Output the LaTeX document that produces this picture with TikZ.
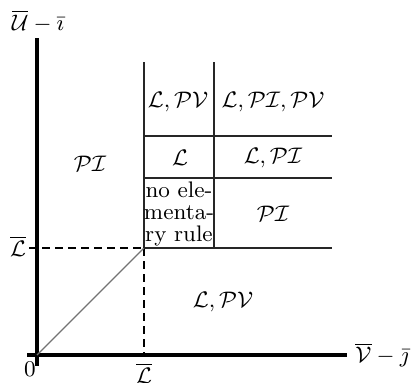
\documentclass[tikz,border=0pt]{standalone}
\usepackage{amsmath}
\begin{document}
\begin{tikzpicture}[x=0.4pt,y=-0.4pt,
  axis/.style={line width=1.6pt},
  grid/.style={line width=0.45pt,draw=black!85},
  guide/.style={line width=0.45pt,dashed,dash pattern=on 3.2pt off 2pt},
  diag/.style={line width=0.45pt,draw=black!55},
  lbl/.style={inner sep=0pt,font=\small}]
\useasboundingbox (0,0) rectangle (412,382);
% key points
\coordinate (O) at (37,355);
\coordinate (ytop) at (37,38);
\coordinate (ybot) at (37,366);
\coordinate (xleft) at (27,355);
\coordinate (xright) at (347,355);
\coordinate (C) at (144,248);
\coordinate (Cb) at (144,355);
\coordinate (Lt) at (29,248);
\coordinate (a1) at (144,62);
\coordinate (a2) at (214,62);
\coordinate (b2) at (214,248);
\coordinate (r1l) at (144,136);
\coordinate (r1r) at (332,136);
\coordinate (r2l) at (144,178);
\coordinate (r2r) at (332,178);
\coordinate (r3r) at (332,248);
% axes
\draw[axis] (ytop) -- (ybot);
\draw[axis] (xleft) -- (xright);
% guides
\draw[guide] (Lt) -- (C);
\draw[guide] (C) -- (Cb);
\draw[diag] (O) -- (C);
% grid
\draw[grid] (a1) -- (C);
\draw[grid] (a2) -- (b2);
\draw[grid] (r1l) -- (r1r);
\draw[grid] (r2l) -- (r2r);
\draw[grid] (C) -- (r3r);
% labels
\node[lbl] (ylab) at (38,21) {$\overline{\mathcal{U}}-\bar\imath$};
\node[lbl] (xlab) at (382,355) {$\overline{\mathcal{V}}-\bar\jmath$};
\node[lbl] (zero) at (30,369) {$0$};
\node[lbl] (Lleft) at (18,246) {$\overline{\mathcal{L}}$};
\node[lbl] (Lbot) at (144,373) {$\overline{\mathcal{L}}$};
\node[lbl] (c11) at (178,102) {$\mathcal{L},\mathcal{PV}$};
\node[lbl] (c12) at (273,102) {$\mathcal{L},\mathcal{PI},\mathcal{PV}$};
\node[lbl] (c21) at (180,158) {$\mathcal{L}$};
\node[lbl,align=center,font={\fontsize{9}{8.7}\selectfont}] (c31) at (179,214) {no ele-\\menta-\\ry rule};
\node[lbl] (c22) at (273,158) {$\mathcal{L},\mathcal{PI}$};
\node[lbl] (c32) at (273,214) {$\mathcal{PI}$};
\node[lbl] (left) at (90,164) {$\mathcal{PI}$};
\node[lbl] (bottom) at (223,302) {$\mathcal{L},\mathcal{PV}$};
\end{tikzpicture}
\end{document}
